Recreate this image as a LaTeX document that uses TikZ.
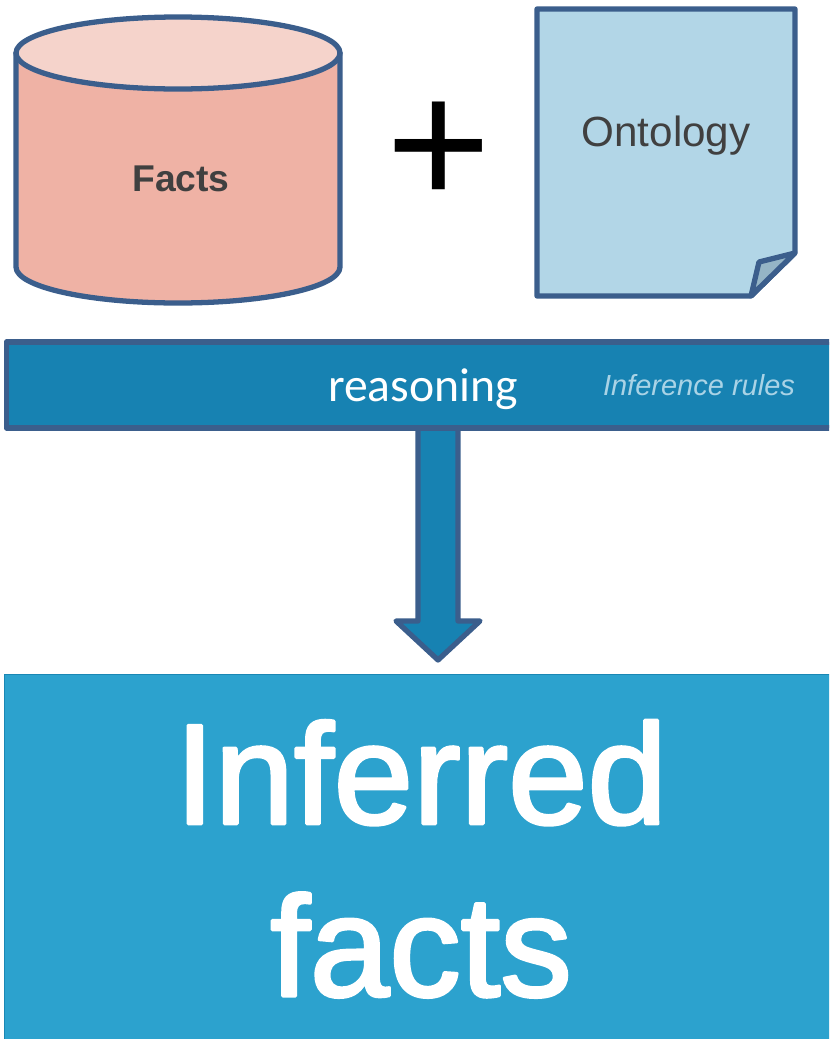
\documentclass[tikz,border=0pt]{standalone}
\usepackage{fontspec}
\setmainfont{Liberation Sans}
\newfontfamily\carlito{Carlito}
\newfontfamily\heavyfont[FakeBold=2.3]{Liberation Sans}
\usepackage{tikz}
\usetikzlibrary{calc}
\definecolor{edgeblue}{HTML}{3B5E8C}
\definecolor{cylbody}{HTML}{EFB2A5}
\definecolor{cyltop}{HTML}{F5D3CB}
\definecolor{pagefill}{HTML}{B2D6E7}
\definecolor{foldfill}{HTML}{95B5C6}
\definecolor{barfill}{HTML}{1782B2}
\definecolor{boxfill}{HTML}{2CA2CE}
\definecolor{boxedge}{HTML}{1A87B4}
\definecolor{textgrey}{HTML}{404040}
\definecolor{rulestext}{HTML}{A9D3E6}

\begin{document}
\begin{tikzpicture}[x=0.01cm, y=-0.01cm, line join=round,
        shapeline/.style={draw=edgeblue, line width=1.5pt}]
        \useasboundingbox (0,0) rectangle (829,1039);
        \clip (0,0) rectangle (829,1039);

        % cylinder
        \path[shapeline, fill=cylbody] (16,53) -- (16,267) arc[start angle=180, end angle=360, x radius=162, y radius=-36] -- (340,53) -- cycle;
        \path[shapeline, fill=cyltop] (178,53) ellipse[x radius=162, y radius=36];
        \node[text=textgrey, font=\fontsize{10.6}{12}\selectfont\bfseries] (facts) at (181,179) {Facts};

        \node[font=\fontsize{51}{51}\selectfont] (plus) at (439,154) {+};

        % page with the folded corner
        \path[shapeline, fill=pagefill] (537,9) -- (795,9) -- (795,253) -- (751,296) -- (537,296) -- cycle;
        \path[shapeline, fill=foldfill] (795,253) -- (759,262) -- (751,296) -- cycle;
        \node[text=textgrey, font=\fontsize{12}{15}\selectfont] (ontology) at (666,136) {Ontology};

        % arrow goes under the bar
        \path[shapeline, fill=barfill] (418,428) -- (458,428) -- (458,621) -- (480,621) -- (438,660) -- (396,621) -- (418,621) -- cycle;
        \node[shapeline, fill=barfill, minimum width=8.33cm, minimum height=0.86cm, inner sep=0pt] (bar) at (423,385) {};
        \node[text=white, font=\carlito\fontsize{13.55}{15}\selectfont] (reasoning) at (423,389) {reasoning};
        \node[text=rulestext, font=\fontsize{8.25}{10}\selectfont\itshape] (rules) at (699,385) {Inference rules};

        \node[draw=boxedge, line width=0.4pt, fill=boxfill, minimum width=8.32cm, minimum height=3.68cm, inner sep=0pt, anchor=north, text=white, align=center, font=\heavyfont\fontsize{40.6}{49}\selectfont] (inferred) at (421,674) {Inferred\\facts};
    \end{tikzpicture}
\end{document}
